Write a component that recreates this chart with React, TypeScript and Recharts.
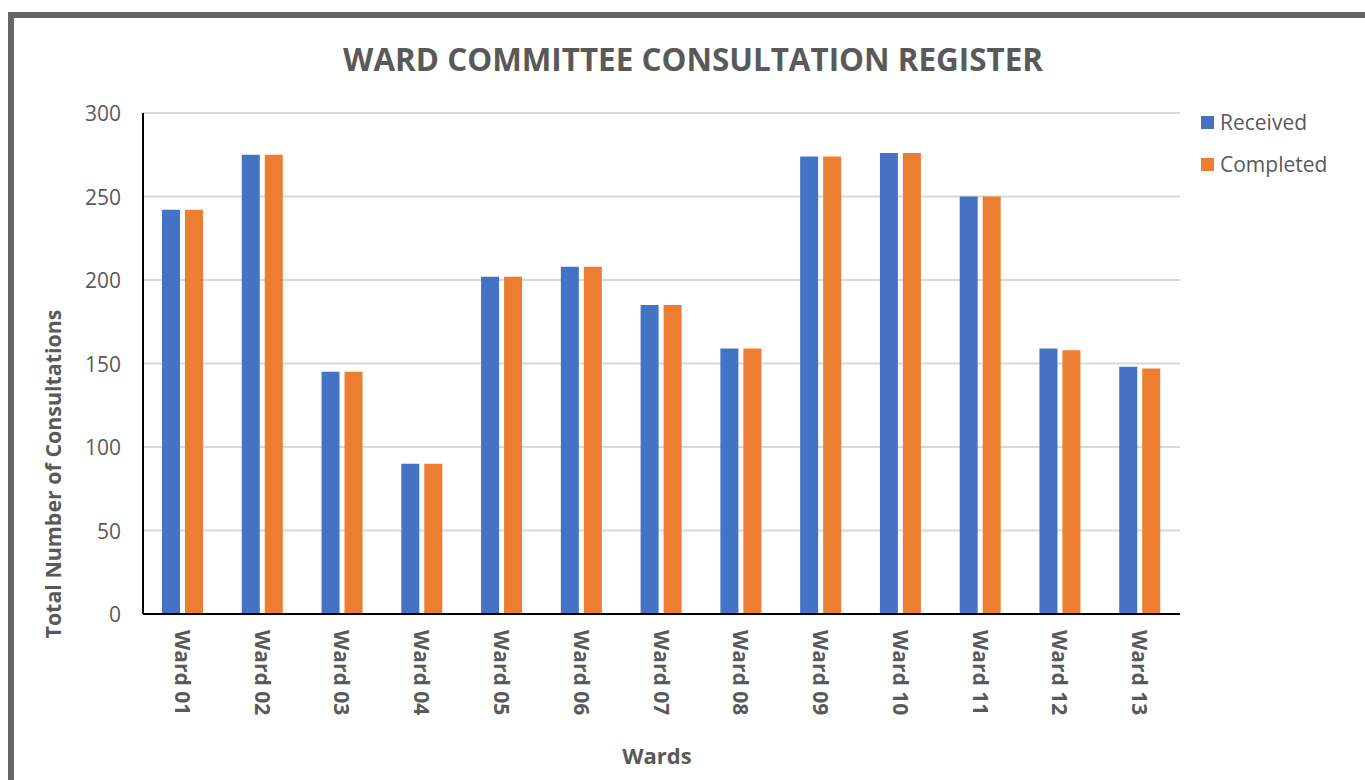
import React from "react";
import { BarChart, Bar, XAxis, YAxis, CartesianGrid } from "recharts";

const wards = ["Ward 01", "Ward 02", "Ward 03", "Ward 04", "Ward 05", "Ward 06", "Ward 07", "Ward 08", "Ward 09", "Ward 10", "Ward 11", "Ward 12", "Ward 13"];
const received = [242, 275, 145, 90, 202, 208, 185, 159, 274, 276, 250, 159, 148];
const completed = [242, 275, 145, 90, 202, 208, 185, 159, 274, 276, 250, 158, 147];
const yTicks = [0, 50, 100, 150, 200, 250, 300];

const data = wards.map((w, i) => ({ ward: w, received: received[i], completed: completed[i] }));

const FONT = "'Open Sans', 'Noto Sans', sans-serif";
const GREY = "#595959";
const BLUE = "#4472C4";
const ORANGE = "#ED7D31";

const WardTick = (props: any) => {
  const { x, y, payload } = props;
  return (
    <text
      x={x}
      y={y + 8}
      transform={`rotate(90, ${x}, ${y + 8})`}
      textAnchor="start"
      dominantBaseline="central"
      fill={GREY}
      fontSize={21}
      fontWeight={700}
      fontFamily={FONT}
    >
      {payload.value}
    </text>
  );
};

const CountTick = (props: any) => {
  const { x, y, payload } = props;
  return (
    <text x={x} y={y} textAnchor="end" dominantBaseline="central" fill={GREY} fontSize={21} fontFamily={FONT}>
      {payload.value}
    </text>
  );
};

export default function App() {
  return (
    <div style={{ position: "fixed", left: 0, top: 0, width: 1365, height: 780, overflow: "hidden", background: "#fff" }}>
      <div
        style={{
          position: "absolute",
          left: 8,
          top: 12,
          width: 1420,
          height: 820,
          border: "6px solid #666",
          boxSizing: "border-box",
        }}
      />
      <div style={{ position: "absolute", left: 0, top: 0 }}>
        <BarChart
          width={1365}
          height={780}
          data={data}
          margin={{ top: 113, right: 185, bottom: 0, left: 83 }}
          barGap={5}
          barSize={18}
        >
          <CartesianGrid vertical={false} stroke="#d9d9d9" strokeWidth={2} />
          <XAxis
            dataKey="ward"
            stroke="#000"
            strokeWidth={2}
            tickLine={false}
            tick={<WardTick />}
            interval={0}
            height={166}
          />
          <YAxis
            domain={[0, 300]}
            ticks={yTicks}
            width={60}
            stroke="#000"
            strokeWidth={2}
            tickLine={false}
            tickSize={0}
            tickMargin={22}
            tick={<CountTick />}
          />
          <Bar dataKey="received" name="Received" fill={BLUE} isAnimationActive={false} />
          <Bar dataKey="completed" name="Completed" fill={ORANGE} isAnimationActive={false} />
        </BarChart>
      </div>
      <div
        style={{
          position: "absolute",
          left: 0,
          width: 1386,
          top: 39,
          textAlign: "center",
          fontFamily: FONT,
          fontWeight: 700,
          fontSize: 31.4,
          color: GREY,
          lineHeight: "40px",
        }}
      >
        WARD COMMITTEE CONSULTATION REGISTER
      </div>
      <div
        style={{
          position: "absolute",
          left: 52,
          top: 474,
          transform: "translate(-50%, -50%) rotate(-90deg)",
          whiteSpace: "nowrap",
          fontFamily: FONT,
          fontWeight: 700,
          fontSize: 21.4,
          color: GREY,
        }}
      >
        Total Number of Consultations
      </div>
      <div
        style={{
          position: "absolute",
          left: 657,
          top: 755,
          transform: "translate(-50%, -50%)",
          fontFamily: FONT,
          fontWeight: 700,
          fontSize: 22,
          color: GREY,
        }}
      >
        Wards
      </div>
      {[
        { label: "Received", color: BLUE, top: 122 },
        { label: "Completed", color: ORANGE, top: 164 },
      ].map((item) => (
        <div
          key={item.label}
          style={{
            position: "absolute",
            left: 1201,
            top: item.top,
            transform: "translateY(-50%)",
            display: "flex",
            alignItems: "center",
            fontFamily: FONT,
            fontSize: 21,
            color: GREY,
          }}
        >
          <span style={{ display: "inline-block", width: 13, height: 13, background: item.color, marginRight: 6 }} />
          {item.label}
        </div>
      ))}
    </div>
  );
}
